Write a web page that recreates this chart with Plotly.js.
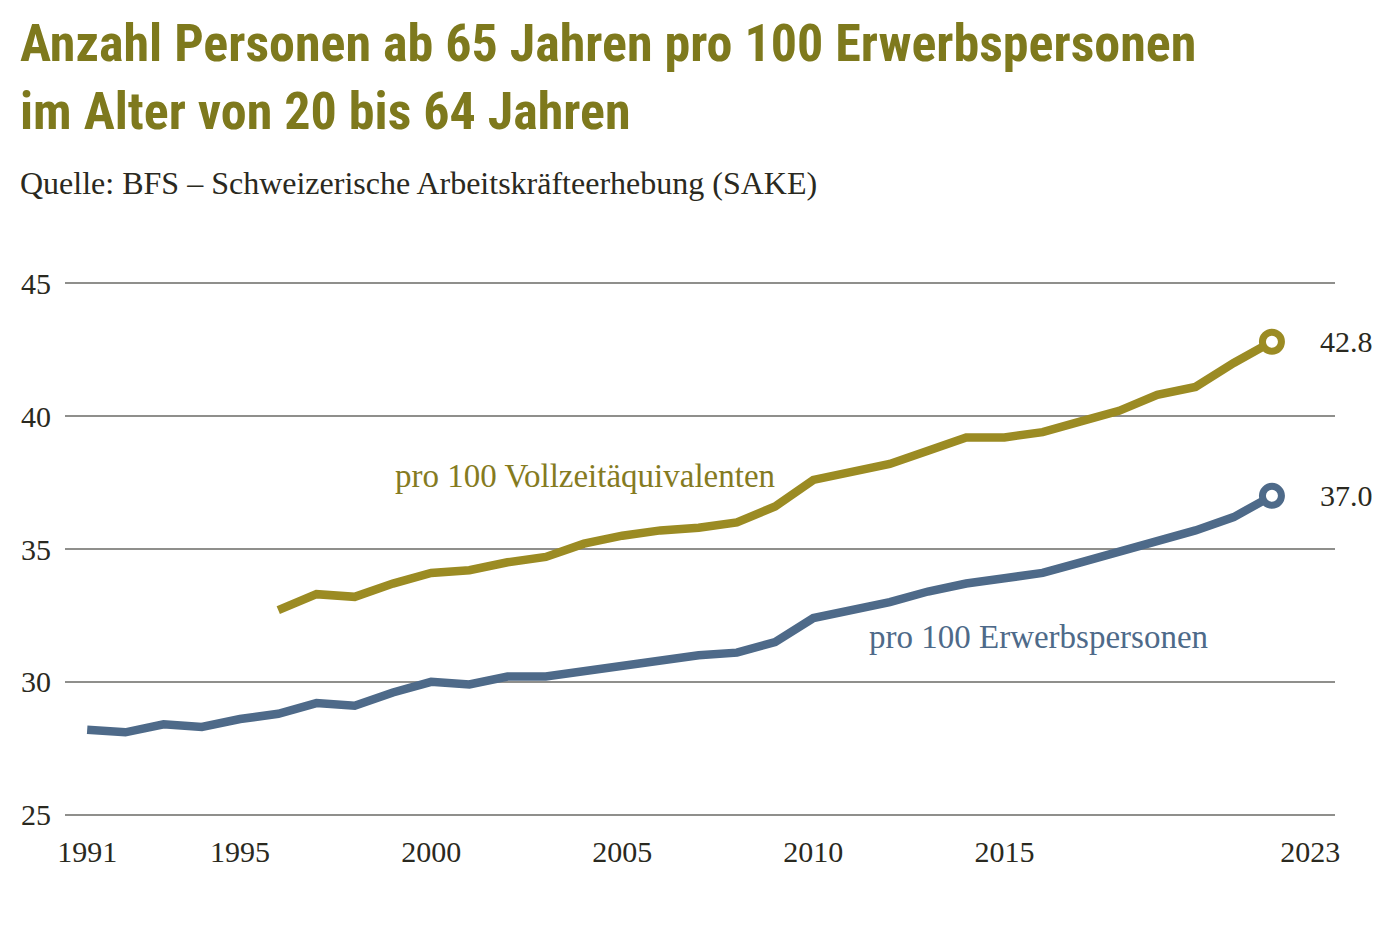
<!DOCTYPE html>
<html>
<head>
<meta charset="utf-8">
<script src="https://cdn.plot.ly/plotly-3.0.1.min.js"></script>
<style>html,body{margin:0;padding:0;background:#fff;} #chart{width:1400px;height:930px;}</style>
</head>
<body>
<div id="chart"></div>
<script>
const yearsErwerb = [1991,1992,1993,1994,1995,1996,1997,1998,1999,2000,2001,2002,2003,2004,2005,2006,2007,2008,2009,2010,2011,2012,2013,2014,2015,2016,2017,2018,2019,2020,2021,2022];
const valuesErwerb = [28.2,28.1,28.4,28.3,28.6,28.8,29.2,29.1,29.6,30.0,29.9,30.2,30.2,30.4,30.6,30.8,31.0,31.1,31.5,32.4,32.7,33.0,33.4,33.7,33.9,34.1,34.5,34.9,35.3,35.7,36.2,37.0];
const yearsVZA = [1996,1997,1998,1999,2000,2001,2002,2003,2004,2005,2006,2007,2008,2009,2010,2011,2012,2013,2014,2015,2016,2017,2018,2019,2020,2021,2022];
const valuesVZA = [32.7,33.3,33.2,33.7,34.1,34.2,34.5,34.7,35.2,35.5,35.7,35.8,36.0,36.6,37.6,37.9,38.2,38.7,39.2,39.2,39.4,39.8,40.2,40.8,41.1,42.0,42.8];
const xTickVals = [1991,1995,2000,2005,2010,2015,2023];
const yTickVals = [25,30,35,40,45];
const titleText = "Anzahl Personen ab 65 Jahren pro 100 Erwerbspersonen<br>im Alter von 20 bis 64 Jahren";
const sourceText = "Quelle: BFS – Schweizerische Arbeitskräfteerhebung (SAKE)";
const labelVZA = "pro 100 Vollzeitäquivalenten";
const labelErwerb = "pro 100 Erwerbspersonen";

const gold = "#9b8b23";
const blue = "#4e6a89";
const serif = "Liberation Serif, DejaVu Serif, serif";

const lastE = valuesErwerb.length - 1;
const lastV = valuesVZA.length - 1;

const traces = [
  {x: yearsVZA, y: valuesVZA, type: "scatter", mode: "lines",
   line: {color: gold, width: 8.5}, hoverinfo: "skip"},
  {x: yearsErwerb, y: valuesErwerb, type: "scatter", mode: "lines",
   line: {color: blue, width: 8.5}, hoverinfo: "skip"},
  {x: [yearsVZA[lastV]], y: [valuesVZA[lastV]], type: "scatter", mode: "markers",
   marker: {size: 19, color: "#ffffff", line: {color: gold, width: 7}}, hoverinfo: "skip"},
  {x: [yearsErwerb[lastE]], y: [valuesErwerb[lastE]], type: "scatter", mode: "markers",
   marker: {size: 19, color: "#ffffff", line: {color: blue, width: 7}}, hoverinfo: "skip"}
];

const layout = {
  width: 1400, height: 930,
  paper_bgcolor: "#ffffff", plot_bgcolor: "#ffffff",
  showlegend: false,
  margin: {l: 65, r: 65, t: 270, b: 102},
  xaxis: {
    range: [1990.42, 2023.65],
    tickmode: "array", tickvals: xTickVals, ticktext: xTickVals.map(String),
    showgrid: false, zeroline: false, showline: false, ticks: "",
    tickfont: {family: serif, size: 30, color: "#2a2920"},
    ticklabelstandoff: 3
  },
  yaxis: {
    range: [24.5, 45.5],
    tickmode: "array", tickvals: yTickVals, ticktext: yTickVals.map(String),
    showgrid: true, gridcolor: "#8f8f8c", gridwidth: 2,
    zeroline: false, showline: false, ticks: "",
    tickfont: {family: serif, size: 30, color: "#2a2920"},
    ticklabelstandoff: 13
  },
  annotations: [
    {text: titleText, xref: "paper", yref: "paper", x: -0.0370, y: 1.0, yshift: 259,
     xanchor: "left", yanchor: "top", align: "left", showarrow: false,
     font: {family: "Roboto Condensed, Roboto", size: 52, color: "#7e791d", weight: 700}},
    {text: sourceText, xref: "paper", yref: "paper", x: -0.0370, y: 1.0, yshift: 87,
     xanchor: "left", yanchor: "middle", showarrow: false,
     font: {family: serif, size: 32, color: "#2a2920"}},
    {text: labelVZA, x: 1999.0, y: 37.75, xanchor: "left", yanchor: "middle", showarrow: false,
     font: {family: serif, size: 33, color: "#857b1f"}},
    {text: labelErwerb, x: 2011.4, y: 31.7, xanchor: "left", yanchor: "middle", showarrow: false,
     font: {family: serif, size: 33, color: blue}},
    {text: valuesVZA[lastV].toFixed(1), x: yearsVZA[lastV], y: valuesVZA[lastV], xshift: 46,
     xanchor: "left", yanchor: "middle", showarrow: false,
     font: {family: serif, size: 30, color: "#2a2920"}},
    {text: valuesErwerb[lastE].toFixed(1), x: yearsErwerb[lastE], y: valuesErwerb[lastE], xshift: 46,
     xanchor: "left", yanchor: "middle", showarrow: false,
     font: {family: serif, size: 30, color: "#2a2920"}}
  ]
};

Plotly.newPlot("chart", traces, layout, {staticPlot: true, displayModeBar: false});
</script>
</body>
</html>
